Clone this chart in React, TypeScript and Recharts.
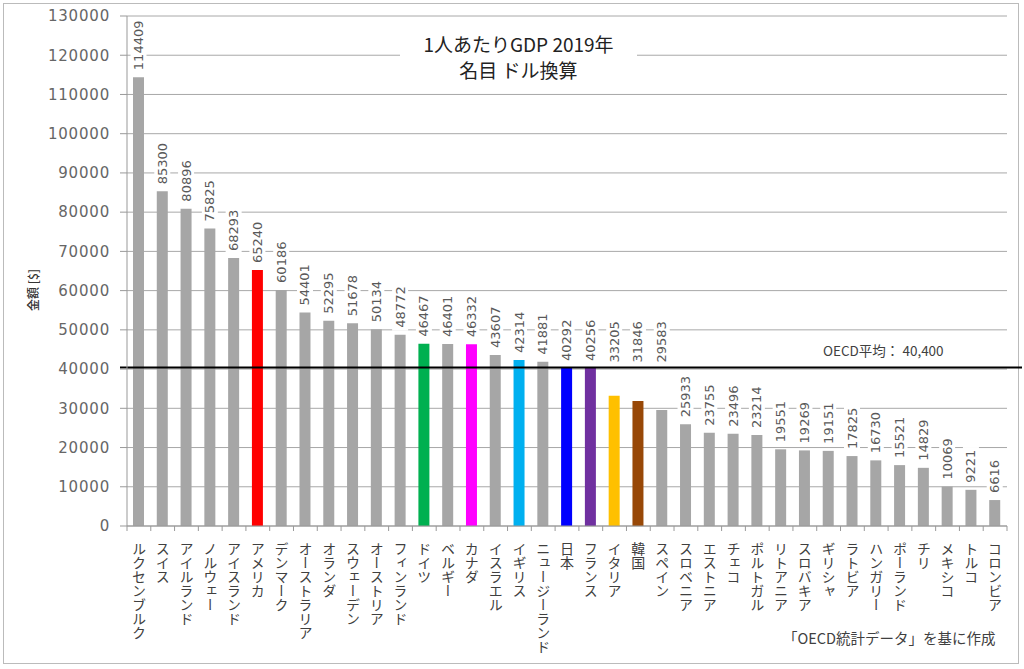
import { BarChart, Bar, XAxis, YAxis, CartesianGrid, ReferenceLine, Cell, LabelList } from 'recharts';

const countries = [
  'ルクセンブルク', 'スイス', 'アイルランド', 'ノルウェー', 'アイスランド', 'アメリカ', 'デンマーク',
  'オーストラリア', 'オランダ', 'スウェーデン', 'オーストリア', 'フィンランド', 'ドイツ', 'ベルギー',
  'カナダ', 'イスラエル', 'イギリス', 'ニュージーランド', '日本', 'フランス', 'イタリア', '韓国',
  'スペイン', 'スロベニア', 'エストニア', 'チェコ', 'ポルトガル', 'リトアニア', 'スロバキア',
  'ギリシャ', 'ラトビア', 'ハンガリー', 'ポーランド', 'チリ', 'メキシコ', 'トルコ', 'コロンビア',
];

const gdp = [
  114409, 85300, 80896, 75825, 68293, 65240, 60186,
  54401, 52295, 51678, 50134, 48772, 46467, 46401,
  46332, 43607, 42314, 41881, 40292, 40256, 33205, 31846,
  29583, 25933, 23755, 23496, 23214, 19551, 19269,
  19151, 17825, 16730, 15521, 14829, 10069, 9221, 6616,
];

const GRAY = '#a6a6a6';
const barColors = [
  GRAY, GRAY, GRAY, GRAY, GRAY, '#ff0000', GRAY,
  GRAY, GRAY, GRAY, GRAY, GRAY, '#00b050', GRAY,
  '#ff00ff', GRAY, '#00b0f0', GRAY, '#0000ff', '#7030a0', '#ffc000', '#984807',
  GRAY, GRAY, GRAY, GRAY, GRAY, GRAY, GRAY,
  GRAY, GRAY, GRAY, GRAY, GRAY, GRAY, GRAY, GRAY,
];

const yTicks = [0, 10000, 20000, 30000, 40000, 50000, 60000, 70000, 80000, 90000, 100000, 110000, 120000, 130000];
const Y_MAX = 130000;
const OECD_AVG = 40400;

const data = countries.map((name, i) => ({ name, value: gdp[i], color: barColors[i] }));

// plot box, used for the label collision check and tick spacing
const PLOT_LEFT = 127;
const PLOT_RIGHT = 1007;
const PLOT_TOP = 16;
const PLOT_BOTTOM = 526;
const BAND = (PLOT_RIGHT - PLOT_LEFT) / countries.length;

const TEXT = '#595959';
const NUM_FONT = '"DejaVu Sans", sans-serif';
const JP_FONT = '"Noto Sans CJK JP", sans-serif';

function ValueLabel(props: any) {
  const { x, y, width, value } = props;
  const cx = x + width / 2;
  const len = String(value).length * 8.2;
  const lineY = PLOT_TOP + (PLOT_BOTTOM - PLOT_TOP) * (1 - OECD_AVG / Y_MAX);
  let bottom = y - 7;
  // labels that would sit on the OECD line are lifted above it
  if (bottom > lineY - 4 && bottom - len < lineY + 4) bottom = lineY - 5;
  return (
    <g>
      <rect x={cx - 8} y={bottom - len - 3} width={16} height={len + 6} fill="#fff" />
      <text
        x={cx}
        y={bottom}
        transform={`rotate(-90, ${cx}, ${bottom})`}
        textAnchor="start"
        dominantBaseline="central"
        fontSize={13}
        fontFamily={NUM_FONT}
        fill={TEXT}
      >
        {value}
      </text>
    </g>
  );
}

function CountryTick(props: any) {
  const { x, y, payload, index } = props;
  const left = x - BAND / 2;
  return (
    <g>
      <line x1={left} y1={y} x2={left} y2={y + 5} stroke="#999" />
      {index === countries.length - 1 && (
        <line x1={x + BAND / 2} y1={y} x2={x + BAND / 2} y2={y + 5} stroke="#999" />
      )}
      <text
        x={x}
        y={y + 16}
        style={{ writingMode: 'vertical-rl' }}
        fontSize={14}
        fontFamily={JP_FONT}
        fill="#404040"
      >
        {payload.value}
      </text>
    </g>
  );
}

function OecdLine(props: any) {
  const { x1, y1, x2, y2 } = props;
  return <line x1={x1 - 7} y1={y1} x2={x2 + 15} y2={y2} stroke="#000" strokeWidth={2} />;
}

export default function App() {
  return (
    <div style={{ position: 'relative', width: 1024, height: 669, background: '#fff' }}>
      <style>{'body{margin:0}'}</style>
      <div
        style={{
          position: 'absolute', left: 3, top: 3, width: 1016, height: 661,
          border: '1px solid #bbb', boxSizing: 'border-box',
        }}
      />
      <BarChart
        width={1024}
        height={669}
        data={data}
        margin={{ top: PLOT_TOP, right: 1024 - PLOT_RIGHT, bottom: 13, left: 0 }}
        barSize={11}
      >
        <CartesianGrid vertical={false} stroke="#a8a8a8" />
        <XAxis
          dataKey="name"
          interval={0}
          height={130}
          tickSize={0}
          tickLine={false}
          tickMargin={0}
          stroke="#999"
          tick={<CountryTick />}
        />
        <YAxis
          width={PLOT_LEFT}
          domain={[0, Y_MAX]}
          ticks={yTicks}
          interval={0}
          tickSize={7}
          tickMargin={10}
          stroke="#999"
          tick={{ fill: '#666', fontSize: 15, fontFamily: NUM_FONT, letterSpacing: 0.8 }}
        />
        <Bar dataKey="value" isAnimationActive={false}>
          {data.map((d) => (
            <Cell key={d.name} fill={d.color} />
          ))}
          <LabelList dataKey="value" content={<ValueLabel />} />
        </Bar>
        <ReferenceLine y={OECD_AVG} shape={<OecdLine />} />
      </BarChart>

      <div
        style={{
          position: 'absolute', left: 400, top: 27, width: 237, height: 60, background: '#fff',
          textAlign: 'center', fontFamily: JP_FONT, fontSize: 19, lineHeight: '26px', color: '#222',
          paddingTop: 4, boxSizing: 'border-box',
        }}
      >
        <div>1人あたりGDP 2019年</div>
        <div>名目 ドル換算</div>
      </div>

      <div
        style={{
          position: 'absolute', left: 32, top: 290, transform: 'translate(-50%, -50%) rotate(-90deg)',
          fontFamily: JP_FONT, fontSize: 12, fontWeight: 500, color: '#333', whiteSpace: 'nowrap',
        }}
      >
        金額 [$]
      </div>

      <div
        style={{
          position: 'absolute', left: 823, top: 340, fontFamily: JP_FONT, fontSize: 13.5,
          color: '#404040', whiteSpace: 'nowrap',
        }}
      >
        OECD平均： 40,400
      </div>

      <div
        style={{
          position: 'absolute', left: 783, top: 627, fontFamily: JP_FONT, fontSize: 14.5,
          color: '#404040', whiteSpace: 'nowrap',
        }}
      >
        「OECD統計データ」を基に作成
      </div>
    </div>
  );
}
